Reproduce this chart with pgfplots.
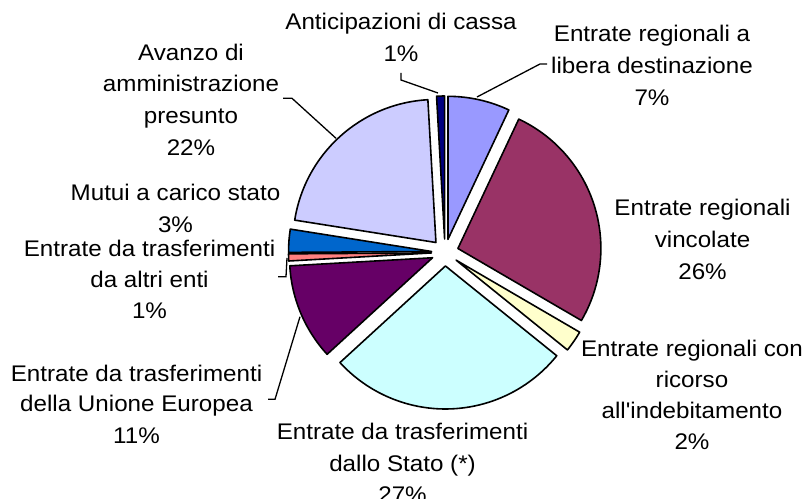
\documentclass[border=0pt]{standalone}
\usepackage{pgfplots}
\pgfplotsset{compat=1.18}
\usepackage{pgfplotstable}
\usepackage{fontspec}
\setmainfont[FakeStretch=1.07,Ligatures=TeXOff]{Liberation Sans}

\definecolor{pie0}{HTML}{9999FF}
\definecolor{pie1}{HTML}{993366}
\definecolor{pie2}{HTML}{FFFFCC}
\definecolor{pie3}{HTML}{CCFFFF}
\definecolor{pie4}{HTML}{660066}
\definecolor{pie5}{HTML}{FF8080}
\definecolor{pie6}{HTML}{0066CC}
\definecolor{pie7}{HTML}{CCCCFF}
\definecolor{pie8}{HTML}{000080}

% share of each slice (percent), clockwise from 12 o'clock
\pgfplotstableread{
slice value
libera 7.0
vincolate 26.4
indebitamento 2.4
stato 27.4
ue 10.9
altrienti 0.8
mutui 2.6
avanzo 21.6
anticipazioni 0.9
}\piedata

\newcommand\pieR{143}
\newcommand\pieD{13.5}
\newcommand\pieCx{445}
\newcommand\pieCy{252.5}
\newcommand\lf{\fontsize{22.6bp}{31bp}\selectfont}

\begin{document}
\begin{tikzpicture}
\pgfmathsetmacro\cum{90}
\pgfplotsforeachungrouped \i in {0,...,8}{%
  \pgfplotstablegetelem{\i}{value}\of\piedata
  \pgfmathsetmacro\sa{\cum}%
  \pgfmathsetmacro\ea{\cum-3.6*\pgfplotsretval}%
  \pgfmathsetmacro\pmid{(\sa+\ea)/2}%
  \pgfmathsetmacro\apx{\pieCx+\pieD*cos(\pmid)}%
  \pgfmathsetmacro\apy{\pieCy-\pieD*sin(\pmid)}%
  \expandafter\xdef\csname sa\i\endcsname{\sa}%
  \expandafter\xdef\csname ea\i\endcsname{\ea}%
  \expandafter\xdef\csname ax\i\endcsname{\apx}%
  \expandafter\xdef\csname ay\i\endcsname{\apy}%
  \global\let\cum\ea
}
\begin{axis}[name=ax, width=804bp, height=499bp, scale only axis,
  xmin=0, xmax=804, ymin=0, ymax=499, y dir=reverse, hide axis, clip=false]
\pgfplotsinvokeforeach{0,...,8}{%
  \edef\tmp{\noexpand\filldraw[fill=pie#1, draw=black, line width=1.6bp, line join=round]
    (axis cs:\csname ax#1\endcsname,\csname ay#1\endcsname) -- ++(\csname sa#1\endcsname:\pieR bp)
    arc[start angle=\csname sa#1\endcsname, end angle=\csname ea#1\endcsname, radius=\pieR bp] -- cycle;}%
  \tmp
}
% leader lines
\draw[line width=1.3bp] (axis cs:401,73) -- (axis cs:401,80) -- (axis cs:438,93);
\draw[line width=1.3bp] (axis cs:477,97) -- (axis cs:540,64) -- (axis cs:547,64);
\draw[line width=1.3bp] (axis cs:283,98.3) -- (axis cs:292,98.3) -- (axis cs:336,138.3);
\draw[line width=1.3bp] (axis cs:287,258) -- (axis cs:286,276.7) -- (axis cs:278,276.7);
\draw[line width=1.3bp] (axis cs:300,316.7) -- (axis cs:275,399.3) -- (axis cs:268,399.3);
% labels
\node[font=\lf, anchor=base] at (axis cs:401,30) {Anticipazioni di cassa};
\node[font=\lf, anchor=base] at (axis cs:401,62) {1\%};
\node[font=\lf, anchor=base] at (axis cs:652,42) {Entrate regionali a};
\node[font=\lf, anchor=base] at (axis cs:652,74) {libera destinazione};
\node[font=\lf, anchor=base] at (axis cs:652,106) {7\%};
\node[font=\lf, anchor=base] at (axis cs:702.5,215) {Entrate regionali};
\node[font=\lf, anchor=base] at (axis cs:702.5,247) {vincolate};
\node[font=\lf, anchor=base] at (axis cs:702.5,279) {26\%};
\node[font=\lf, anchor=base] at (axis cs:692,356) {Entrate regionali con};
\node[font=\lf, anchor=base] at (axis cs:692,387) {ricorso};
\node[font=\lf, anchor=base] at (axis cs:692,418) {all'indebitamento};
\node[font=\lf, anchor=base] at (axis cs:692,449) {2\%};
\node[font=\lf, anchor=base] at (axis cs:402.5,439) {Entrate da trasferimenti};
\node[font=\lf, anchor=base] at (axis cs:402.5,471) {dallo Stato (*)};
\node[font=\lf, anchor=base] at (axis cs:402.5,502) {27\%};
\node[font=\lf, anchor=base] at (axis cs:136.5,381) {Entrate da trasferimenti};
\node[font=\lf, anchor=base] at (axis cs:136.5,411) {della Unione Europea};
\node[font=\lf, anchor=base] at (axis cs:136.5,443) {11\%};
\node[font=\lf, anchor=base] at (axis cs:149.5,256) {Entrate da trasferimenti};
\node[font=\lf, anchor=base] at (axis cs:149.5,287.5) {da altri enti};
\node[font=\lf, anchor=base] at (axis cs:149.5,318) {1\%};
\node[font=\lf, anchor=base] at (axis cs:175.5,200) {Mutui a carico stato};
\node[font=\lf, anchor=base] at (axis cs:175.5,232) {3\%};
\node[font=\lf, anchor=base] at (axis cs:191,61) {Avanzo di};
\node[font=\lf, anchor=base] at (axis cs:191,92) {amministrazione};
\node[font=\lf, anchor=base] at (axis cs:191,123.5) {presunto};
\node[font=\lf, anchor=base] at (axis cs:191,155) {22\%};
\end{axis}
\pgfresetboundingbox
\path (ax.south west) rectangle (ax.north east);
\end{tikzpicture}
\end{document}
